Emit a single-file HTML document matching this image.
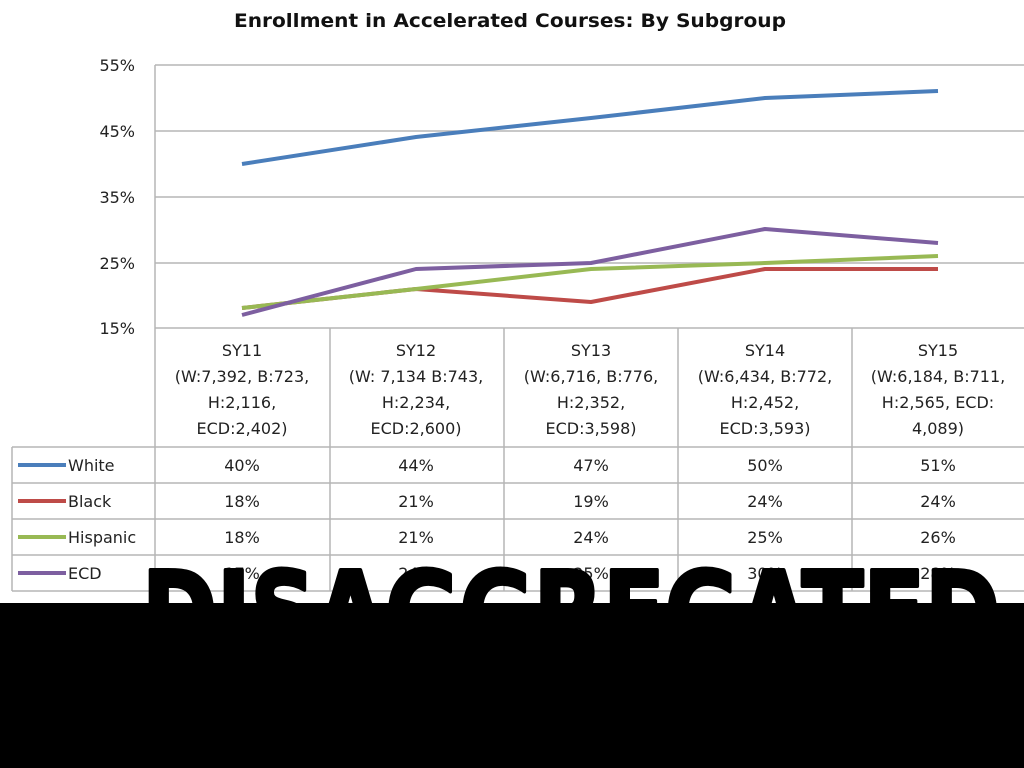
<!DOCTYPE html>
<html><head><meta charset="utf-8"><style>
html,body{margin:0;padding:0;background:#fff;width:1024px;height:768px;overflow:hidden}
</style></head><body>
<svg width="1024" height="768" xmlns="http://www.w3.org/2000/svg" font-family="'DejaVu Sans','Liberation Sans',sans-serif">
<rect width="1024" height="768" fill="#fff"/>
<text x="510" y="27" text-anchor="middle" font-size="19" font-weight="bold" fill="#111" textLength="552" lengthAdjust="spacingAndGlyphs">Enrollment in Accelerated Courses: By Subgroup</text>
<g stroke="#b5b5b5" stroke-width="1.5" fill="none">
<line x1="155" y1="65" x2="1024" y2="65"/>
<line x1="155" y1="131" x2="1024" y2="131"/>
<line x1="155" y1="197" x2="1024" y2="197"/>
<line x1="155" y1="263" x2="1024" y2="263"/>
<line x1="155" y1="328" x2="1024" y2="328"/>
<line x1="155" y1="65" x2="155" y2="591"/>
<line x1="330" y1="328" x2="330" y2="591"/>
<line x1="504" y1="328" x2="504" y2="591"/>
<line x1="678" y1="328" x2="678" y2="591"/>
<line x1="852" y1="328" x2="852" y2="591"/>
<line x1="12" y1="447" x2="1024" y2="447"/>
<line x1="12" y1="483" x2="1024" y2="483"/>
<line x1="12" y1="519" x2="1024" y2="519"/>
<line x1="12" y1="555" x2="1024" y2="555"/>
<line x1="12" y1="591" x2="1024" y2="591"/>
<line x1="12" y1="447" x2="12" y2="591"/>
</g>
<g font-size="16" fill="#222" text-anchor="end">
<text x="135" y="71">55%</text><text x="135" y="137">45%</text><text x="135" y="203">35%</text><text x="135" y="269">25%</text><text x="135" y="334">15%</text>
</g>
<g font-size="16" fill="#222" text-anchor="middle">
<text x="242" y="356">SY11</text><text x="242" y="382">(W:7,392, B:723,</text><text x="242" y="408">H:2,116,</text><text x="242" y="434">ECD:2,402)</text>
<text x="416" y="356">SY12</text><text x="416" y="382">(W: 7,134 B:743,</text><text x="416" y="408">H:2,234,</text><text x="416" y="434">ECD:2,600)</text>
<text x="591" y="356">SY13</text><text x="591" y="382">(W:6,716, B:776,</text><text x="591" y="408">H:2,352,</text><text x="591" y="434">ECD:3,598)</text>
<text x="765" y="356">SY14</text><text x="765" y="382">(W:6,434, B:772,</text><text x="765" y="408">H:2,452,</text><text x="765" y="434">ECD:3,593)</text>
<text x="938" y="356">SY15</text><text x="938" y="382">(W:6,184, B:711,</text><text x="938" y="408">H:2,565, ECD:</text><text x="938" y="434">4,089)</text>
<text x="242" y="471">40%</text><text x="416" y="471">44%</text><text x="591" y="471">47%</text><text x="765" y="471">50%</text><text x="938" y="471">51%</text>
<text x="242" y="507">18%</text><text x="416" y="507">21%</text><text x="591" y="507">19%</text><text x="765" y="507">24%</text><text x="938" y="507">24%</text>
<text x="242" y="543">18%</text><text x="416" y="543">21%</text><text x="591" y="543">24%</text><text x="765" y="543">25%</text><text x="938" y="543">26%</text>
<text x="242" y="579">17%</text><text x="416" y="579">24%</text><text x="591" y="579">25%</text><text x="765" y="579">30%</text><text x="938" y="579">28%</text>
</g>
<g stroke-width="4" fill="none" stroke-linejoin="round">
<polyline stroke="#4a7ebb" points="242,164 416,137 591,118 765,98 938,91"/>
<polyline stroke="#be4b48" points="242,308 416,289 591,302 765,269 938,269"/>
<polyline stroke="#98b954" points="242,308 416,289 591,269 765,263 938,256"/>
<polyline stroke="#7d5fa0" points="242,315 416,269 591,263 765,229 938,243"/>
<line stroke="#4a7ebb" x1="18" y1="465" x2="66" y2="465"/>
<line stroke="#be4b48" x1="18" y1="501" x2="66" y2="501"/>
<line stroke="#98b954" x1="18" y1="537" x2="66" y2="537"/>
<line stroke="#7d5fa0" x1="18" y1="573" x2="66" y2="573"/>
</g>
<g font-size="16" fill="#222">
<text x="68" y="471">White</text><text x="68" y="507">Black</text><text x="68" y="543">Hispanic</text><text x="68" y="579">ECD</text>
</g>
<text x="142" y="652" font-size="112" font-weight="900" textLength="858" lengthAdjust="spacingAndGlyphs" fill="#000" stroke="#000" stroke-width="4" stroke-linejoin="round">DISAGGREGATED</text>
<rect x="0" y="603" width="1024" height="165" fill="#000"/>
</svg>
</body></html>
